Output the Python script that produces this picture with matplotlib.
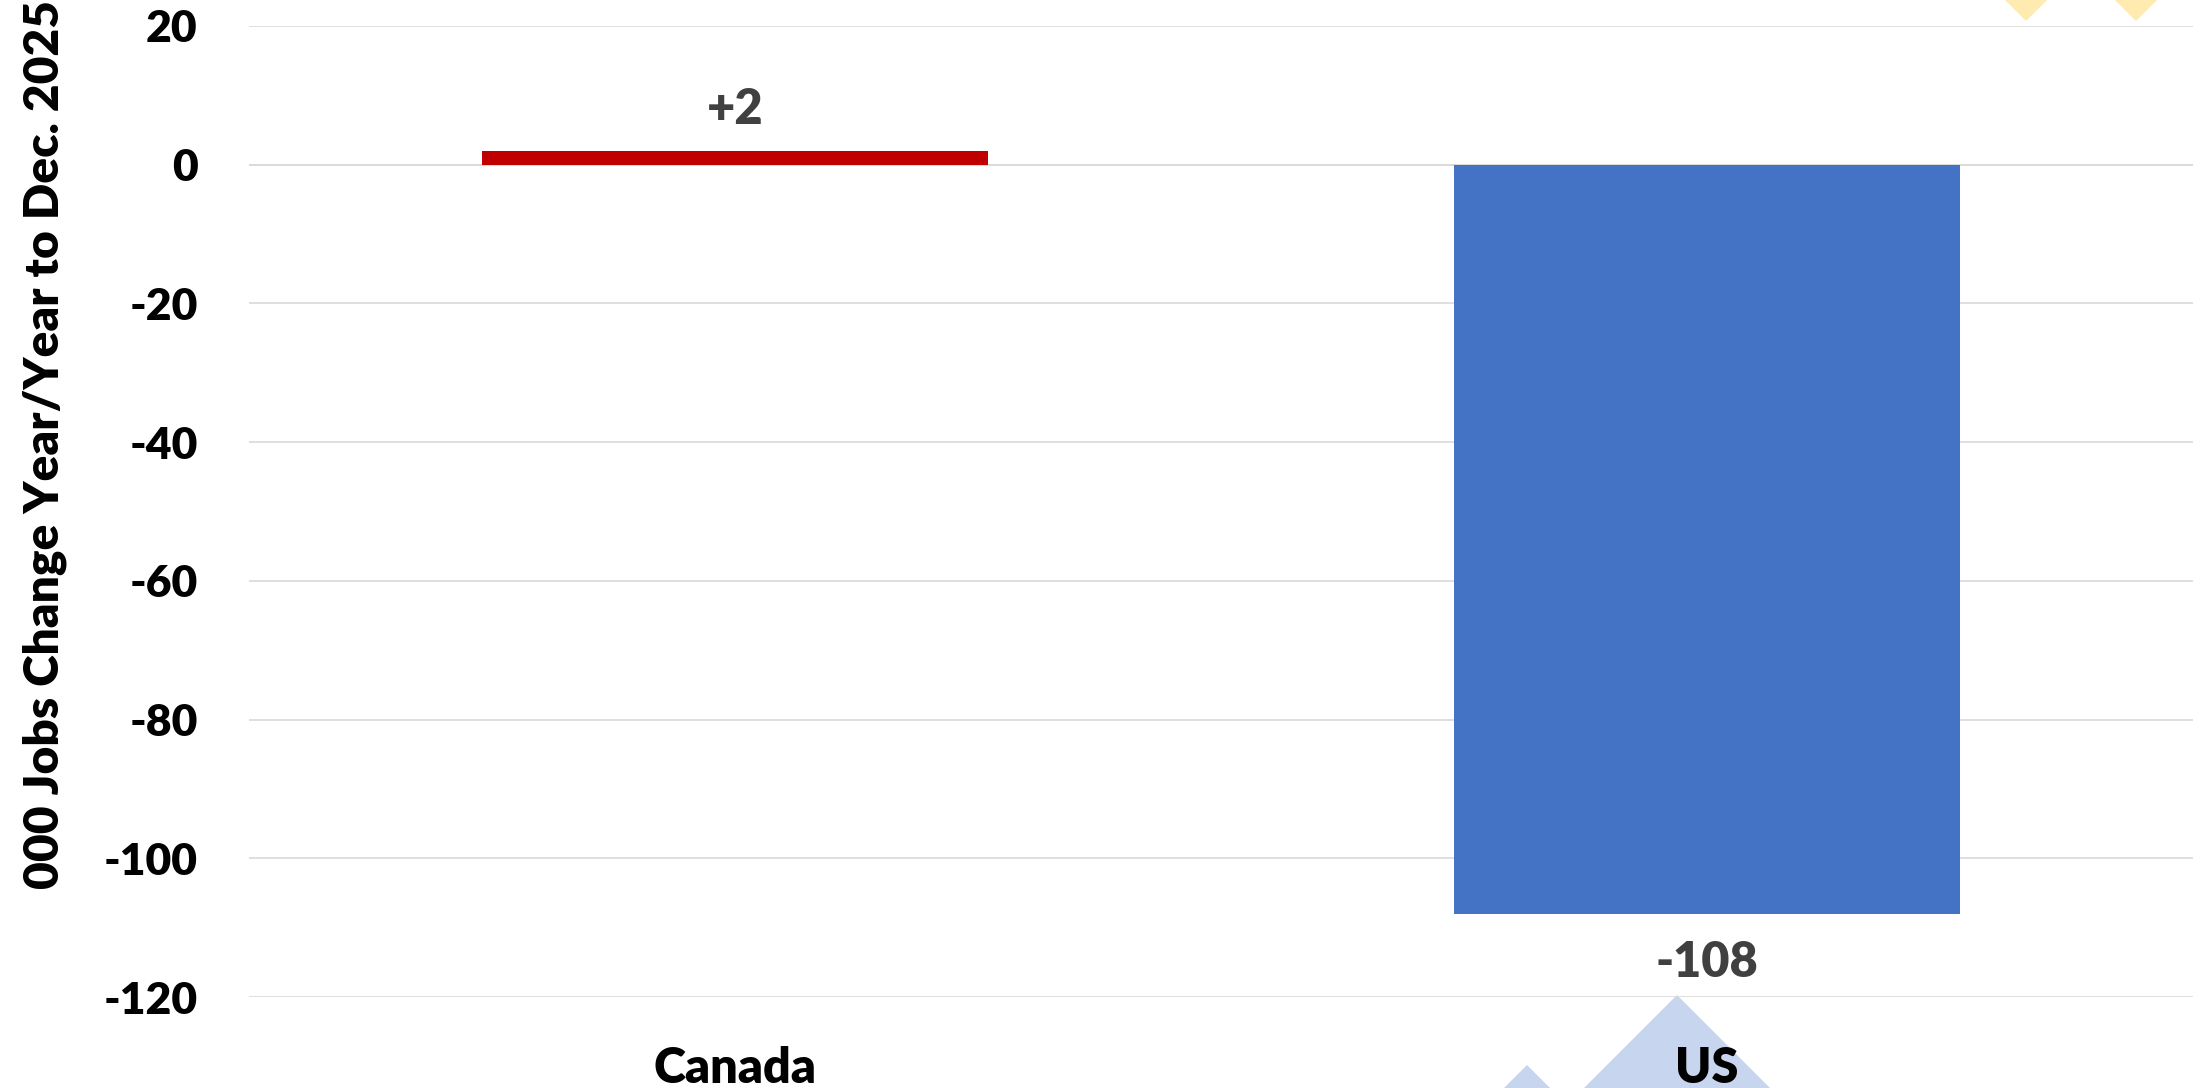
import matplotlib
matplotlib.use("Agg")
import matplotlib.pyplot as plt
from matplotlib.patches import Polygon

# データ
categories = ["Canada", "US"]
values = [2, -108]
labels = ["+2", "-108"]
bar_colors = ["#C00000", "#4472C4"]
yticks = [20, 0, -20, -40, -60, -80, -100, -120]

plt.rcParams["font.family"] = ["Lato", "DejaVu Sans"]
WEIGHT = "heavy"

W, H = 2201, 1088
fig = plt.figure(figsize=(W / 100, H / 100), dpi=100)
ax = fig.add_axes([249 / W, 1 - 997 / H, (2193 - 249) / W, 971 / H])
ax.set_facecolor("none")


def px(x, y):
    # ピクセル座標 -> figure座標
    return (x / W, 1 - y / H)


# 背景の飾り三角形
deco = [
    ([(1677, 995), (1477, 1195), (1877, 1195)], "#C7D5EE"),
    ([(1527, 1065), (1327, 1265), (1727, 1265)], "#C7D5EE"),
    ([(2026, 21), (1946, -59), (2106, -59)], "#FFEBAF"),
    ([(2136, 21), (2056, -59), (2216, -59)], "#FFEBAF"),
]
for pts, c in deco:
    fig.patches.append(Polygon([px(*p) for p in pts], closed=True,
                               transform=fig.transFigure, facecolor=c,
                               edgecolor="none", zorder=-1))

x = range(len(categories))
ax.bar(x, values, width=0.52, color=bar_colors, zorder=3)

for xi, v, lab in zip(x, values, labels):
    if v >= 0:
        ax.annotate(lab, (xi, v), xytext=(0, 19), textcoords="offset points",
                    ha="center", va="baseline", fontsize=35,
                    color="#404040", fontweight=WEIGHT)
    else:
        ax.annotate(lab, (xi, v), xytext=(0, -19), textcoords="offset points",
                    ha="center", va="top", fontsize=35,
                    color="#404040", fontweight=WEIGHT)

ax.set_xlim(-0.5, 1.5)
ax.set_ylim(-120, 20)
ax.set_yticks(yticks)
ax.set_yticklabels([str(t) for t in yticks])
ax.set_xticks(list(x))
ax.set_xticklabels(categories)
ax.tick_params(axis="y", length=0, pad=37, labelsize=32)
ax.tick_params(axis="x", length=0, pad=35, labelsize=35)
for lab in ax.get_xticklabels() + ax.get_yticklabels():
    lab.set_fontweight(WEIGHT)

ax.grid(axis="y", color="#D9D9D9", linewidth=1.2, zorder=0)
ax.set_axisbelow(True)
for s in ax.spines.values():
    s.set_visible(False)
ax.axhline(0, color="#D9D9D9", linewidth=1.2, zorder=1)

fig.text(45 / W, 1 - 445 / H, "000 Jobs Change Year/Year to Dec. 2025",
         rotation=90, ha="center", va="center", fontsize=34.5,
         fontweight=WEIGHT, color="black")

fig.savefig("out.png", dpi=100)
